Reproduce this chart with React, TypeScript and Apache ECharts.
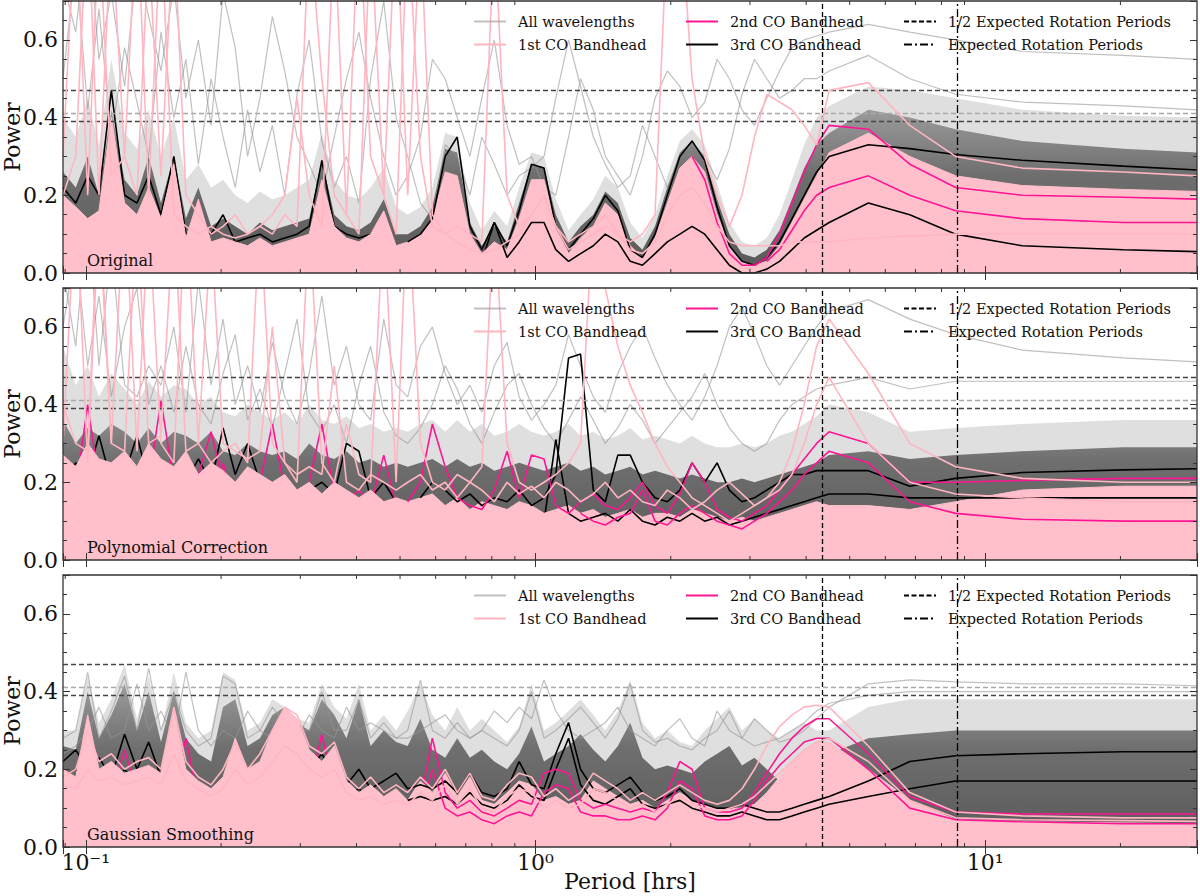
import React, { useEffect, useRef } from 'react';
import * as echarts from 'echarts';

// ---------------- DATA ----------------
// Period grid [hrs]
const periods = [
  0.089, 0.095, 0.101, 0.107, 0.114, 0.122, 0.13, 0.138, 0.147, 0.157,
  0.167, 0.178, 0.19, 0.202, 0.215, 0.229, 0.244, 0.26, 0.277, 0.295,
  0.314, 0.335, 0.357, 0.38, 0.405, 0.43, 0.46, 0.49,
  0.52, 0.555, 0.59, 0.63, 0.67, 0.715, 0.76, 0.81, 0.865, 0.92,
  0.98, 1.045, 1.11, 1.185, 1.26, 1.345, 1.43, 1.525, 1.625, 1.73,
  1.845, 1.965, 2.095, 2.23, 2.38, 2.535, 2.7, 2.88, 3.07, 3.27,
  3.49, 3.72, 3.96, 4.22,
  4.5, 5.5, 6.8, 8.6, 12.1, 20.3, 29.6,
];

// Panel 1: Original
const origBandLight = [
  0.40, 0.35, 0.45, 0.33, 0.55, 0.36, 0.32, 0.42, 0.30, 0.40, 0.24, 0.28, 0.22, 0.24, 0.20, 0.18, 0.21, 0.19, 0.20, 0.22, 0.24, 0.36, 0.24, 0.20, 0.19, 0.22, 0.27, 0.17,
  0.15, 0.17, 0.22, 0.36, 0.35, 0.18, 0.11, 0.16, 0.12, 0.22, 0.31, 0.30, 0.19, 0.11, 0.15, 0.19, 0.25, 0.22, 0.13, 0.09, 0.15, 0.25, 0.34, 0.37, 0.33, 0.23, 0.13, 0.08, 0.07, 0.09, 0.15, 0.24, 0.33, 0.40,
  0.43, 0.48, 0.47, 0.45, 0.42, 0.405, 0.40,
];
const origBandDark = [
  0.26, 0.22, 0.30, 0.20, 0.42, 0.24, 0.20, 0.30, 0.18, 0.30, 0.14, 0.22, 0.12, 0.14, 0.12, 0.10, 0.13, 0.11, 0.12, 0.13, 0.14, 0.29, 0.15, 0.12, 0.11, 0.13, 0.19, 0.10,
  0.10, 0.12, 0.17, 0.32, 0.31, 0.13, 0.07, 0.12, 0.08, 0.18, 0.28, 0.27, 0.15, 0.08, 0.12, 0.15, 0.21, 0.18, 0.09, 0.06, 0.12, 0.22, 0.31, 0.34, 0.30, 0.19, 0.10, 0.05, 0.04, 0.06, 0.11, 0.19, 0.27, 0.33,
  0.36, 0.42, 0.40, 0.37, 0.34, 0.32, 0.31,
];
const origPinkFill = [
  0.20, 0.17, 0.14, 0.16, 0.40, 0.18, 0.15, 0.22, 0.14, 0.28, 0.09, 0.19, 0.08, 0.09, 0.08, 0.07, 0.09, 0.07, 0.08, 0.09, 0.10, 0.24, 0.12, 0.09, 0.08, 0.10, 0.16, 0.07,
  0.08, 0.10, 0.14, 0.26, 0.25, 0.10, 0.05, 0.08, 0.06, 0.14, 0.24, 0.24, 0.12, 0.05, 0.09, 0.12, 0.18, 0.15, 0.07, 0.04, 0.09, 0.18, 0.27, 0.30, 0.26, 0.15, 0.07, 0.03, 0.02, 0.03, 0.07, 0.13, 0.19, 0.25,
  0.31, 0.36, 0.30, 0.25, 0.225, 0.215, 0.21,
];
const origGray1 = [
  0.75, 0.62, 0.90, 0.55, 0.72, 0.48, 0.80, 0.66, 0.52, 0.74, 0.45, 0.60, 0.38, 0.72, 0.58, 0.30, 0.45, 0.66, 0.52, 0.35, 0.28, 0.20, 0.35, 0.50, 0.62, 0.45, 0.30, 0.20,
  0.25, 0.35, 0.55, 0.50, 0.40, 0.30, 0.45, 0.60, 0.38, 0.28, 0.30, 0.22, 0.20, 0.35, 0.50, 0.42, 0.30, 0.25, 0.20, 0.30, 0.45, 0.52, 0.48, 0.40, 0.44, 0.55, 0.50, 0.42, 0.38, 0.45, 0.52, 0.58, 0.60, 0.61,
  0.62, 0.64, 0.62, 0.60, 0.57, 0.56, 0.55,
];
const origGray2 = [
  0.50, 0.80, 0.42, 0.68, 0.35, 0.58, 0.44, 0.30, 0.62, 0.40, 0.55, 0.28, 0.50, 0.35, 0.22, 0.42, 0.26, 0.38, 0.20, 0.46, 0.60, 0.34, 0.22, 0.30, 0.18, 0.50, 0.70, 0.40,
  0.30, 0.18, 0.14, 0.33, 0.30, 0.20, 0.35, 0.28, 0.20, 0.25, 0.27, 0.30, 0.45, 0.60, 0.48, 0.35, 0.28, 0.22, 0.25, 0.38, 0.30, 0.22, 0.30, 0.33, 0.30, 0.24, 0.32, 0.46, 0.55, 0.50, 0.45, 0.47, 0.50, 0.50,
  0.52, 0.56, 0.50, 0.46, 0.44, 0.43, 0.42,
];
const origPink1 = [
  0.30, 0.95, 0.20, 0.90, 0.25, 0.30, 0.95, 0.20, 0.90, 0.15, 0.12, 0.10, 0.12, 0.10, 0.09, 0.10, 0.12, 0.15, 0.20, 0.45, 0.20, 0.12, 0.90, 0.15, 0.95, 0.30, 0.20, 0.95,
  0.20, 0.90, 0.15, 0.10, 0.12, 0.10, 0.08, 0.90, 0.20, 0.12, 0.15, 0.20, 0.12, 0.08, 0.10, 0.12, 0.15, 0.10, 0.08, 0.10, 0.15, 0.90, 0.95, 0.50, 0.30, 0.20, 0.12, 0.20, 0.35, 0.46, 0.44, 0.42, 0.38, 0.33,
  0.47, 0.49, 0.38, 0.30, 0.27, 0.26, 0.25,
];
const origPink2 = [
  0.20, 0.30, 0.95, 0.20, 0.90, 0.30, 0.20, 0.85, 0.25, 0.90, 0.20, 0.15, 0.10, 0.12, 0.15, 0.10, 0.12, 0.10, 0.15, 0.12, 0.90, 0.50, 0.20, 0.15, 0.10, 0.90, 0.20, 0.10,
  0.92, 0.30, 0.12, 0.10, 0.08, 0.06, 0.05, 0.06, 0.08, 0.10, 0.15, 0.20, 0.12, 0.06, 0.08, 0.10, 0.12, 0.10, 0.06, 0.05, 0.08, 0.15, 0.20, 0.22, 0.18, 0.12, 0.08, 0.07, 0.07, 0.07, 0.07, 0.08, 0.08, 0.08,
  0.08, 0.09, 0.095, 0.10, 0.10, 0.10, 0.10,
];
const origDeep1 = [
  0.12, 0.10, 0.08, 0.10, 0.30, 0.10, 0.08, 0.12, 0.10, 0.20, 0.06, 0.19, 0.06, 0.08, 0.05, 0.05, 0.06, 0.05, 0.06, 0.07, 0.08, 0.18, 0.08, 0.06, 0.05, 0.07, 0.10, 0.05,
  0.05, 0.08, 0.12, 0.22, 0.20, 0.08, 0.04, 0.06, 0.05, 0.12, 0.22, 0.20, 0.10, 0.04, 0.07, 0.10, 0.16, 0.12, 0.05, 0.03, 0.08, 0.17, 0.26, 0.30, 0.24, 0.13, 0.05, 0.02, 0.02, 0.04, 0.10, 0.18, 0.26, 0.33,
  0.38, 0.37, 0.28, 0.22, 0.20, 0.195, 0.19,
];
const origDeep2 = [
  0.08, 0.06, 0.05, 0.07, 0.20, 0.07, 0.05, 0.08, 0.06, 0.12, 0.04, 0.10, 0.04, 0.05, 0.03, 0.03, 0.04, 0.03, 0.04, 0.05, 0.05, 0.12, 0.05, 0.04, 0.03, 0.05, 0.07, 0.03,
  0.03, 0.05, 0.08, 0.16, 0.15, 0.05, 0.02, 0.04, 0.03, 0.08, 0.16, 0.15, 0.07, 0.02, 0.05, 0.07, 0.12, 0.09, 0.03, 0.02, 0.05, 0.12, 0.18, 0.21, 0.17, 0.09, 0.03, 0.01, 0.01, 0.03, 0.06, 0.11, 0.16, 0.20,
  0.22, 0.25, 0.20, 0.16, 0.14, 0.13, 0.13,
];
const origBlack1 = [
  0.22, 0.18, 0.25, 0.20, 0.47, 0.20, 0.18, 0.25, 0.15, 0.30, 0.10, 0.12, 0.10, 0.15, 0.08, 0.09, 0.10, 0.08, 0.09, 0.10, 0.12, 0.29, 0.12, 0.10, 0.09, 0.10, 0.14, 0.06,
  0.08, 0.10, 0.14, 0.30, 0.35, 0.12, 0.06, 0.13, 0.07, 0.16, 0.28, 0.27, 0.12, 0.06, 0.10, 0.14, 0.20, 0.16, 0.06, 0.04, 0.10, 0.20, 0.30, 0.34, 0.29, 0.17, 0.07, 0.03, 0.02, 0.04, 0.08, 0.14, 0.20, 0.26,
  0.30, 0.33, 0.32, 0.305, 0.29, 0.275, 0.265,
];
const origBlack2 = [
  0.10, 0.08, 0.12, 0.09, 0.15, 0.08, 0.07, 0.10, 0.07, 0.12, 0.05, 0.06, 0.05, 0.06, 0.04, 0.04, 0.05, 0.04, 0.05, 0.05, 0.06, 0.10, 0.05, 0.04, 0.04, 0.05, 0.07, 0.04,
  0.04, 0.05, 0.07, 0.12, 0.12, 0.05, 0.03, 0.13, 0.04, 0.08, 0.13, 0.13, 0.06, 0.03, 0.05, 0.07, 0.10, 0.08, 0.03, 0.02, 0.05, 0.08, 0.10, 0.12, 0.10, 0.06, 0.02, 0.00, 0.00, 0.01, 0.03, 0.06, 0.09, 0.11,
  0.13, 0.18, 0.15, 0.10, 0.07, 0.06, 0.055,
];

// Panel 2: Polynomial Correction
const polyBandLight = [
  0.55, 0.45, 0.50, 0.42, 0.48, 0.44, 0.40, 0.46, 0.42, 0.45, 0.44, 0.40, 0.42, 0.38, 0.37, 0.40, 0.38, 0.36, 0.38, 0.35, 0.40, 0.36, 0.35, 0.37, 0.34, 0.35, 0.33, 0.34,
  0.33, 0.35, 0.36, 0.33, 0.36, 0.33, 0.35, 0.32, 0.33, 0.35, 0.33, 0.32, 0.33, 0.35, 0.32, 0.33, 0.31, 0.32, 0.34, 0.31, 0.32, 0.31, 0.30, 0.32, 0.30, 0.29, 0.29, 0.30, 0.29, 0.30, 0.32, 0.33, 0.35, 0.37,
  0.40, 0.38, 0.33, 0.34, 0.35, 0.36, 0.36,
];
const polyBandDark = [
  0.36, 0.30, 0.34, 0.32, 0.35, 0.33, 0.30, 0.34, 0.30, 0.33, 0.32, 0.30, 0.33, 0.28, 0.27, 0.30, 0.28, 0.27, 0.28, 0.26, 0.30, 0.27, 0.26, 0.28, 0.25, 0.26, 0.24, 0.25,
  0.24, 0.25, 0.26, 0.24, 0.26, 0.24, 0.25, 0.23, 0.24, 0.25, 0.24, 0.23, 0.24, 0.25, 0.23, 0.24, 0.22, 0.23, 0.24, 0.22, 0.23, 0.22, 0.21, 0.22, 0.21, 0.20, 0.20, 0.21, 0.20, 0.21, 0.22, 0.23, 0.24, 0.25,
  0.27, 0.28, 0.26, 0.27, 0.28, 0.29, 0.29,
];
const polyPinkFill = [
  0.27, 0.24, 0.30, 0.26, 0.25, 0.28, 0.24, 0.30, 0.26, 0.24, 0.28, 0.22, 0.25, 0.23, 0.20, 0.24, 0.22, 0.20, 0.22, 0.18, 0.20, 0.17, 0.20, 0.18, 0.16, 0.18, 0.15, 0.16,
  0.15, 0.16, 0.17, 0.14, 0.16, 0.13, 0.15, 0.14, 0.13, 0.15, 0.14, 0.12, 0.13, 0.14, 0.12, 0.13, 0.11, 0.12, 0.13, 0.11, 0.12, 0.12, 0.11, 0.13, 0.12, 0.11, 0.10, 0.11, 0.10, 0.11, 0.12, 0.13, 0.14, 0.15,
  0.14, 0.14, 0.13, 0.15, 0.18, 0.19, 0.19,
];
const polyGray1 = [
  0.75, 0.55, 0.90, 0.50, 0.80, 0.45, 0.42, 0.50, 0.45, 0.60, 0.38, 0.72, 0.45, 0.62, 0.40, 0.50, 0.38, 0.56, 0.42, 0.35, 0.48, 0.68, 0.45, 0.55, 0.40, 0.36, 0.62, 0.45,
  0.42, 0.55, 0.60, 0.48, 0.40, 0.45, 0.38, 0.50, 0.56, 0.42, 0.36, 0.40, 0.45, 0.58, 0.50, 0.42, 0.38, 0.48, 0.55, 0.60, 0.52, 0.45, 0.40, 0.36, 0.42, 0.50, 0.60, 0.65, 0.58, 0.50, 0.45, 0.50, 0.55, 0.60,
  0.64, 0.67, 0.62, 0.58, 0.54, 0.52, 0.51,
];
const polyGray2 = [
  0.60, 0.80, 0.50, 0.68, 0.42, 0.60, 0.70, 0.40, 0.50, 0.38, 0.55, 0.40, 0.35, 0.48, 0.58, 0.36, 0.44, 0.34, 0.48, 0.62, 0.38, 0.33, 0.40, 0.30, 0.45, 0.55, 0.38, 0.32,
  0.30, 0.34, 0.40, 0.50, 0.44, 0.35, 0.30, 0.38, 0.45, 0.48, 0.40, 0.34, 0.30, 0.36, 0.42, 0.36, 0.30, 0.34, 0.40, 0.36, 0.30, 0.34, 0.38, 0.42, 0.48, 0.40, 0.34, 0.30, 0.28, 0.30, 0.36, 0.40, 0.42, 0.44,
  0.45, 0.47, 0.44, 0.46, 0.46, 0.46, 0.46,
];
const polyPink1 = [
  0.30, 0.95, 0.25, 0.90, 0.30, 0.95, 0.28, 0.90, 0.30, 0.25, 0.95, 0.30, 0.25, 0.28, 0.30, 0.25, 0.90, 0.30, 0.25, 0.20, 0.90, 0.25, 0.20, 0.35, 0.22, 0.20, 0.90, 0.20,
  0.95, 0.30, 0.20, 0.18, 0.22, 0.20, 0.24, 0.90, 0.30, 0.20, 0.18, 0.20, 0.22, 0.25, 0.30, 0.90, 0.70, 0.55, 0.45, 0.38, 0.30, 0.24, 0.20, 0.16, 0.14, 0.12, 0.10, 0.12, 0.14, 0.16, 0.20, 0.28, 0.40, 0.55,
  0.62, 0.48, 0.30, 0.24, 0.21, 0.20, 0.20,
];
const polyPink2 = [
  0.40, 0.30, 0.28, 0.95, 0.30, 0.28, 0.90, 0.30, 0.32, 0.90, 0.28, 0.30, 0.85, 0.30, 0.28, 0.26, 0.28, 0.60, 0.25, 0.22, 0.24, 0.22, 0.50, 0.20, 0.18, 0.22, 0.20, 0.18,
  0.20, 0.22, 0.18, 0.20, 0.16, 0.20, 0.18, 0.15, 0.20, 0.17, 0.19, 0.16, 0.20, 0.18, 0.15, 0.17, 0.20, 0.16, 0.18, 0.15, 0.14, 0.18, 0.16, 0.13, 0.15, 0.18, 0.20, 0.17, 0.14, 0.16, 0.18, 0.22, 0.30, 0.40,
  0.47, 0.30, 0.20, 0.17, 0.16, 0.15, 0.15,
];
const polyDeep1 = [
  0.20, 0.18, 0.40, 0.20, 0.17, 0.22, 0.18, 0.20, 0.41, 0.20, 0.18, 0.22, 0.33, 0.20, 0.18, 0.16, 0.20, 0.35, 0.18, 0.16, 0.20, 0.35, 0.17, 0.15, 0.18, 0.14, 0.27, 0.14,
  0.15, 0.20, 0.35, 0.24, 0.16, 0.14, 0.13, 0.18, 0.28, 0.16, 0.27, 0.26, 0.14, 0.12, 0.15, 0.17, 0.14, 0.13, 0.16, 0.20, 0.14, 0.12, 0.17, 0.25, 0.20, 0.13, 0.11, 0.10, 0.12, 0.14, 0.18, 0.22, 0.26, 0.30,
  0.33, 0.30, 0.20, 0.20, 0.205, 0.21, 0.21,
];
const polyDeep2 = [
  0.15, 0.14, 0.22, 0.16, 0.13, 0.15, 0.20, 0.14, 0.16, 0.13, 0.15, 0.14, 0.12, 0.25, 0.13, 0.12, 0.11, 0.13, 0.10, 0.12, 0.11, 0.10, 0.12, 0.10, 0.11, 0.09, 0.10, 0.09,
  0.10, 0.12, 0.14, 0.12, 0.10, 0.09, 0.10, 0.12, 0.11, 0.10, 0.12, 0.10, 0.09, 0.10, 0.12, 0.10, 0.09, 0.11, 0.12, 0.18, 0.10, 0.09, 0.12, 0.14, 0.12, 0.10, 0.09, 0.08, 0.10, 0.12, 0.15, 0.18, 0.22, 0.25,
  0.28, 0.25, 0.15, 0.12, 0.105, 0.10, 0.10,
];
const polyBlack1 = [
  0.20, 0.25, 0.22, 0.32, 0.20, 0.22, 0.32, 0.20, 0.18, 0.22, 0.20, 0.26, 0.20, 0.34, 0.22, 0.30, 0.20, 0.18, 0.20, 0.17, 0.18, 0.20, 0.17, 0.30, 0.28, 0.16, 0.20, 0.15,
  0.14, 0.16, 0.20, 0.18, 0.15, 0.17, 0.14, 0.16, 0.15, 0.18, 0.14, 0.16, 0.22, 0.52, 0.53, 0.18, 0.15, 0.27, 0.27, 0.20, 0.16, 0.15, 0.18, 0.25, 0.20, 0.25, 0.18, 0.15, 0.16, 0.18, 0.20, 0.22, 0.22, 0.23,
  0.23, 0.23, 0.19, 0.21, 0.225, 0.232, 0.235,
];
const polyBlack2 = [
  0.15, 0.12, 0.14, 0.18, 0.13, 0.12, 0.15, 0.12, 0.14, 0.11, 0.13, 0.12, 0.16, 0.12, 0.11, 0.13, 0.10, 0.12, 0.11, 0.10, 0.12, 0.11, 0.10, 0.12, 0.10, 0.09, 0.11, 0.10,
  0.10, 0.12, 0.10, 0.11, 0.13, 0.10, 0.09, 0.11, 0.10, 0.12, 0.11, 0.10, 0.31, 0.12, 0.10, 0.11, 0.12, 0.10, 0.13, 0.10, 0.09, 0.11, 0.10, 0.12, 0.10, 0.11, 0.09, 0.10, 0.11, 0.12, 0.13, 0.14, 0.15, 0.16,
  0.17, 0.17, 0.16, 0.16, 0.16, 0.16, 0.16,
];

// Panel 3: Gaussian Smoothing
const gaussBandLight = [
  0.30, 0.30, 0.44, 0.32, 0.38, 0.47, 0.33, 0.44, 0.30, 0.45, 0.32, 0.28, 0.30, 0.45, 0.43, 0.30, 0.32, 0.38, 0.36, 0.33, 0.32, 0.42, 0.36, 0.33, 0.42, 0.30, 0.34, 0.30,
  0.35, 0.42, 0.34, 0.30, 0.36, 0.30, 0.33, 0.30, 0.27, 0.31, 0.42, 0.30, 0.32, 0.35, 0.38, 0.34, 0.30, 0.35, 0.43, 0.32, 0.28, 0.30, 0.27, 0.26, 0.30, 0.33, 0.36, 0.30, 0.33, 0.30, 0.28, 0.30, 0.32, 0.30,
  0.30, 0.36, 0.38, 0.38, 0.38, 0.38, 0.38,
];
const gaussBandDark = [
  0.26, 0.25, 0.40, 0.28, 0.34, 0.42, 0.30, 0.40, 0.27, 0.40, 0.28, 0.24, 0.22, 0.36, 0.38, 0.26, 0.28, 0.34, 0.36, 0.32, 0.30, 0.38, 0.34, 0.28, 0.38, 0.26, 0.30, 0.27,
  0.26, 0.33, 0.25, 0.23, 0.28, 0.23, 0.25, 0.22, 0.20, 0.24, 0.31, 0.22, 0.24, 0.26, 0.29, 0.25, 0.22, 0.26, 0.32, 0.23, 0.20, 0.21, 0.20, 0.19, 0.22, 0.24, 0.26, 0.21, 0.23, 0.20, 0.17, 0.17, 0.19, 0.21,
  0.24, 0.28, 0.29, 0.30, 0.30, 0.30, 0.30,
];
const gaussPinkFill = [
  0.20, 0.18, 0.34, 0.20, 0.22, 0.19, 0.20, 0.21, 0.19, 0.35, 0.20, 0.17, 0.15, 0.18, 0.28, 0.20, 0.22, 0.30, 0.36, 0.33, 0.25, 0.22, 0.26, 0.17, 0.14, 0.16, 0.13, 0.15,
  0.12, 0.17, 0.14, 0.19, 0.13, 0.18, 0.12, 0.11, 0.14, 0.17, 0.16, 0.12, 0.13, 0.11, 0.12, 0.17, 0.15, 0.13, 0.11, 0.12, 0.10, 0.12, 0.14, 0.12, 0.11, 0.10, 0.10, 0.10, 0.11, 0.14, 0.18, 0.22, 0.25, 0.27,
  0.27, 0.20, 0.12, 0.07, 0.065, 0.062, 0.06,
];
const gaussGray1 = [
  0.28, 0.30, 0.45, 0.28, 0.35, 0.44, 0.30, 0.46, 0.30, 0.40, 0.30, 0.26, 0.28, 0.44, 0.42, 0.28, 0.30, 0.36, 0.32, 0.30, 0.30, 0.40, 0.30, 0.30, 0.38, 0.28, 0.32, 0.28,
  0.30, 0.43, 0.30, 0.28, 0.32, 0.28, 0.30, 0.28, 0.26, 0.30, 0.40, 0.28, 0.30, 0.33, 0.36, 0.32, 0.28, 0.33, 0.42, 0.30, 0.27, 0.28, 0.26, 0.25, 0.28, 0.30, 0.35, 0.28, 0.33, 0.30, 0.27, 0.28, 0.30, 0.33,
  0.36, 0.42, 0.43, 0.425, 0.42, 0.42, 0.415,
];
const gaussGray2 = [
  0.24, 0.26, 0.30, 0.36, 0.28, 0.30, 0.42, 0.30, 0.35, 0.28, 0.45, 0.30, 0.26, 0.30, 0.28, 0.35, 0.30, 0.28, 0.30, 0.28, 0.34, 0.30, 0.28, 0.36, 0.30, 0.32, 0.30, 0.28,
  0.28, 0.30, 0.32, 0.34, 0.30, 0.28, 0.30, 0.35, 0.32, 0.36, 0.33, 0.43, 0.35, 0.30, 0.28, 0.30, 0.32, 0.36, 0.30, 0.28, 0.26, 0.30, 0.33, 0.28, 0.26, 0.35, 0.30, 0.28, 0.26, 0.27, 0.28, 0.30, 0.32, 0.35,
  0.37, 0.39, 0.40, 0.40, 0.40, 0.40, 0.40,
];
const gaussPink1 = [
  0.18, 0.20, 0.30, 0.22, 0.24, 0.20, 0.22, 0.23, 0.20, 0.36, 0.22, 0.18, 0.16, 0.20, 0.27, 0.20, 0.24, 0.30, 0.36, 0.34, 0.26, 0.24, 0.27, 0.18, 0.15, 0.18, 0.14, 0.16,
  0.14, 0.18, 0.15, 0.20, 0.14, 0.19, 0.13, 0.12, 0.16, 0.19, 0.18, 0.13, 0.15, 0.12, 0.14, 0.19, 0.17, 0.15, 0.12, 0.14, 0.12, 0.14, 0.16, 0.14, 0.12, 0.11, 0.12, 0.15, 0.20, 0.26, 0.31, 0.34, 0.36, 0.365,
  0.36, 0.26, 0.14, 0.09, 0.08, 0.075, 0.075,
];
const gaussPink2 = [
  0.16, 0.15, 0.20, 0.17, 0.18, 0.16, 0.17, 0.18, 0.16, 0.24, 0.17, 0.15, 0.13, 0.15, 0.20, 0.16, 0.18, 0.22, 0.26, 0.24, 0.20, 0.18, 0.20, 0.14, 0.12, 0.13, 0.11, 0.12,
  0.11, 0.14, 0.12, 0.16, 0.11, 0.15, 0.10, 0.09, 0.13, 0.15, 0.14, 0.10, 0.12, 0.10, 0.11, 0.15, 0.14, 0.12, 0.10, 0.11, 0.09, 0.11, 0.13, 0.11, 0.10, 0.09, 0.10, 0.11, 0.13, 0.16, 0.19, 0.22, 0.25, 0.27,
  0.28, 0.22, 0.12, 0.075, 0.07, 0.068, 0.066,
];
const gaussDeep1 = [
  0.12, 0.14, 0.33, 0.15, 0.13, 0.25, 0.14, 0.12, 0.13, 0.15, 0.28, 0.12, 0.10, 0.12, 0.14, 0.12, 0.13, 0.15, 0.14, 0.13, 0.15, 0.29, 0.14, 0.12, 0.10, 0.11, 0.09, 0.10,
  0.09, 0.12, 0.28, 0.14, 0.10, 0.12, 0.09, 0.08, 0.10, 0.12, 0.11, 0.19, 0.20, 0.19, 0.12, 0.10, 0.11, 0.10, 0.09, 0.10, 0.09, 0.14, 0.22, 0.20, 0.10, 0.09, 0.09, 0.10, 0.14, 0.19, 0.24, 0.28, 0.31, 0.33,
  0.33, 0.24, 0.13, 0.09, 0.085, 0.085, 0.085,
];
const gaussDeep2 = [
  0.10, 0.11, 0.20, 0.11, 0.10, 0.14, 0.10, 0.09, 0.10, 0.11, 0.16, 0.09, 0.08, 0.09, 0.10, 0.09, 0.10, 0.11, 0.10, 0.09, 0.11, 0.18, 0.10, 0.09, 0.08, 0.08, 0.07, 0.08,
  0.07, 0.09, 0.20, 0.10, 0.08, 0.09, 0.07, 0.06, 0.08, 0.09, 0.08, 0.14, 0.16, 0.15, 0.09, 0.08, 0.08, 0.07, 0.07, 0.08, 0.07, 0.10, 0.17, 0.15, 0.08, 0.07, 0.07, 0.08, 0.12, 0.17, 0.21, 0.24, 0.27, 0.28,
  0.28, 0.20, 0.10, 0.07, 0.065, 0.06, 0.06,
];
const gaussBlack1 = [
  0.22, 0.25, 0.20, 0.23, 0.18, 0.29, 0.20, 0.27, 0.18, 0.20, 0.17, 0.15, 0.14, 0.16, 0.22, 0.18, 0.16, 0.18, 0.20, 0.18, 0.20, 0.24, 0.18, 0.16, 0.20, 0.15, 0.17, 0.19,
  0.15, 0.16, 0.15, 0.17, 0.14, 0.19, 0.14, 0.13, 0.15, 0.22, 0.16, 0.15, 0.24, 0.32, 0.20, 0.15, 0.14, 0.16, 0.18, 0.14, 0.12, 0.13, 0.15, 0.12, 0.11, 0.10, 0.10, 0.11, 0.10, 0.09, 0.09, 0.10, 0.11, 0.12,
  0.13, 0.17, 0.22, 0.235, 0.24, 0.245, 0.245,
];
const gaussBlack2 = [
  0.18, 0.20, 0.16, 0.18, 0.15, 0.20, 0.16, 0.18, 0.14, 0.15, 0.13, 0.12, 0.11, 0.13, 0.16, 0.14, 0.13, 0.14, 0.15, 0.14, 0.15, 0.18, 0.14, 0.13, 0.15, 0.12, 0.13, 0.14,
  0.12, 0.13, 0.12, 0.13, 0.11, 0.14, 0.11, 0.10, 0.12, 0.16, 0.13, 0.12, 0.20, 0.28, 0.16, 0.12, 0.11, 0.13, 0.15, 0.11, 0.10, 0.11, 0.12, 0.10, 0.09, 0.08, 0.08, 0.09, 0.08, 0.07, 0.07, 0.08, 0.09, 0.10,
  0.11, 0.13, 0.15, 0.17, 0.17, 0.17, 0.17,
];

// Reference levels and periods
const significanceLevels = [0.472, 0.413, 0.385];
const halfRotationPeriod = 4.34;
const rotationPeriod = 8.67;
const panelLabels = ['Original', 'Polynomial Correction', 'Gaussian Smoothing'];
const legendColumns = [
  ['All wavelengths', '1st CO Bandhead'],
  ['2nd CO Bandhead', '3rd CO Bandhead'],
  ['1/2 Expected Rotation Periods', 'Expected Rotation Periods'],
];
const minorPeriodTicks = [0.09, 0.2, 0.3, 0.4, 0.5, 0.6, 0.7, 0.8, 0.9, 2, 3, 4, 5, 6, 7, 8, 9, 20];
const xTickLabels: Record<string, string> = { '-1': '10⁻¹', '0': '10⁰', '1': '10¹' };

// ---------------- LAYOUT / STYLE ----------------
const X_MIN = 0.089;
const X_MAX = 29.6;
const GRID_LEFT = 63;
const GRID_W = 1134;
const GRID_H = 272;
const TOPS = [1, 288, 575];
const FONT = '"DejaVu Serif", "Liberation Serif", serif';
const levelColors = ['#444444', '#a8a8a8', '#444444'];
const legendLeft = [473, 685, 903];
const SPLIT_HIGH = 27; // search for the emerging point from here on

const panels = [
  { bandLight: origBandLight, bandDark: origBandDark, pinkFill: origPinkFill, gray: [origGray1, origGray2], pink: [origPink1, origPink2], deep: [origDeep1, origDeep2], black: [origBlack1, origBlack2] },
  { bandLight: polyBandLight, bandDark: polyBandDark, pinkFill: polyPinkFill, gray: [polyGray1, polyGray2], pink: [polyPink1, polyPink2], deep: [polyDeep1, polyDeep2], black: [polyBlack1, polyBlack2] },
  { bandLight: gaussBandLight, bandDark: gaussBandDark, pinkFill: gaussPinkFill, gray: [gaussGray1, gaussGray2], pink: [gaussPink1, gaussPink2], deep: [gaussDeep1, gaussDeep2], black: [gaussBlack1, gaussBlack2] },
];

const pairs = (arr: number[], from = 0, to = periods.length) =>
  periods.slice(from, to).map((p, i) => [p, arr[from + i]]);

// first index (from SPLIT_HIGH) where a line rises above the pink mass
const emergeIndex = (arr: number[], fill: number[]) => {
  for (let k = SPLIT_HIGH; k < arr.length; k++) if (arr[k] >= fill[k]) return k;
  return SPLIT_HIGH;
};

function buildOption() {
  const grid: any[] = [];
  const xAxis: any[] = [];
  const yAxis: any[] = [];
  const series: any[] = [];
  const legend: any[] = [];

  panels.forEach((p, i) => {
    const top = TOPS[i];
    grid.push({ left: GRID_LEFT, top, width: GRID_W, height: GRID_H, show: false });
    const tickStyle = { color: '#333', width: 1 };
    ['bottom', 'top'].forEach((pos) => {
      xAxis.push({
        type: 'log', logBase: 10, gridIndex: i, min: X_MIN, max: X_MAX, position: pos, z: 10,
        axisLine: { show: false }, splitLine: { show: false },
        axisTick: { show: true, inside: true, length: 7, lineStyle: tickStyle },
        axisLabel: {
          show: pos === 'bottom' && i === 2, margin: 4, fontSize: 22, fontFamily: FONT, color: '#111',
          formatter: (v: number) => {
            const l = Math.log10(v);
            const r = Math.round(l);
            if (Math.abs(l - r) > 1e-6) return '';
            return xTickLabels[String(r)] || '';
          },
        },
      });
    });
    ['left', 'right'].forEach((pos) => {
      yAxis.push({
        type: 'value', gridIndex: i, min: 0, max: 0.7, interval: 0.2, position: pos, z: 10,
        axisLine: { show: false }, splitLine: { show: false },
        axisTick: { show: true, inside: true, length: 7, lineStyle: tickStyle },
        minorTick: { show: true, splitNumber: 4, length: 4, lineStyle: tickStyle },
        axisLabel: {
          show: pos === 'left', margin: 5, fontSize: 22, fontFamily: FONT, color: '#111',
          formatter: (v: number) => (v > 0.65 ? '' : v.toFixed(1)),
        },
      });
    });

    const base = {
      type: 'line', xAxisIndex: 2 * i, yAxisIndex: 2 * i, symbol: 'none', showSymbol: false,
      silent: true, animation: false, clip: true,
    };
    const darkGrad = new echarts.graphic.LinearGradient(0, top, 0, top + GRID_H, [
      { offset: 0, color: '#b4b4b4' },
      { offset: 0.36, color: '#9c9c9c' },
      { offset: 0.64, color: '#626262' },
      { offset: 1, color: '#4a4a4a' },
    ], true);

    series.push({ ...base, name: 'band-light-' + i, data: pairs(p.bandLight), lineStyle: { width: 0 }, areaStyle: { color: 'rgba(185,185,185,0.45)', opacity: 1 }, z: 1 });
    series.push({ ...base, name: 'band-dark-' + i, data: pairs(p.bandDark), lineStyle: { width: 0 }, areaStyle: { color: darkGrad, opacity: 0.9 }, z: 1 });
    p.gray.forEach((g) => series.push({ ...base, name: 'All wavelengths', color: '#c8c8c8', data: pairs(g), lineStyle: { color: 'rgba(150,150,150,0.6)', width: 1.2 }, z: 2 }));

    const coloured = [
      ...p.black.map((arr) => ({ arr, name: '3rd CO Bandhead', color: '#000' })),
      ...p.deep.map((arr) => ({ arr, name: '2nd CO Bandhead', color: '#ff1493' })),
    ];
    // short-period parts of 2nd / 3rd bandhead lines sit under the pink mass
    coloured.forEach((c) => {
      const s = emergeIndex(c.arr, p.pinkFill);
      series.push({ ...base, name: c.name, color: c.color, data: pairs(c.arr, 0, s + 1), lineStyle: { color: c.color, width: 1.6 }, z: 2 });
    });
    series.push({ ...base, name: 'pink-fill-' + i, data: pairs(p.pinkFill), lineStyle: { color: '#ffc0cb', width: 1 }, areaStyle: { color: '#ffc0cb', opacity: 1 }, z: 3 });
    coloured.forEach((c) => {
      const s = emergeIndex(c.arr, p.pinkFill);
      series.push({ ...base, name: c.name, color: c.color, data: pairs(c.arr, s), lineStyle: { color: c.color, width: 1.6 }, z: 4 });
    });
    p.pink.forEach((k) => series.push({ ...base, name: '1st CO Bandhead', color: '#ffb6c1', data: pairs(k), lineStyle: { color: '#ffb6c1', width: 1.6 }, z: 5 }));

    series.push({
      ...base, name: 'levels-' + i, data: [], z: 6,
      markLine: {
        silent: true, symbol: 'none', label: { show: false }, animation: false,
        data: significanceLevels.map((v, k) => ({ yAxis: v, lineStyle: { color: levelColors[k], width: 1.3, type: [5, 3] } })),
      },
    });
    series.push({
      ...base, name: '1/2 Expected Rotation Periods', color: '#000', data: [], z: 7,
      lineStyle: { color: '#000', width: 1.5, type: [5, 2.5] },
      markLine: { silent: true, symbol: 'none', label: { show: false }, animation: false, lineStyle: { color: '#000', width: 1.3, type: [5, 3] }, data: [{ xAxis: halfRotationPeriod }] },
    });
    series.push({
      ...base, name: 'Expected Rotation Periods', color: '#000', data: [], z: 7,
      lineStyle: { color: '#000', width: 1.5, type: [8, 3, 2, 3] },
      markLine: { silent: true, symbol: 'none', label: { show: false }, animation: false, lineStyle: { color: '#000', width: 1.3, type: [8, 3, 2, 3] }, data: [{ xAxis: rotationPeriod }] },
    });

    legendColumns.forEach((names, c) => {
      legend.push({
        data: names, orient: 'vertical', left: legendLeft[c], top: top + 13, itemWidth: 32, itemHeight: 14,
        itemGap: 8, padding: 0, selectedMode: false, z: 20,
        itemStyle: { color: 'rgba(0,0,0,0)', borderWidth: 0, opacity: 0 },
        textStyle: { fontSize: 14.5, fontFamily: FONT, color: '#111', padding: [0, 0, 0, 7] },
      });
    });
  });

  return { animation: false, backgroundColor: '#fff', grid, xAxis, yAxis, series, legend };
}

export default function App() {
  const ref = useRef<HTMLDivElement>(null);
  useEffect(() => {
    document.body.style.margin = '0';
    const chart = echarts.init(ref.current as HTMLDivElement, null, { renderer: 'svg' });
    chart.setOption(buildOption());

    const elements: any[] = [];
    TOPS.forEach((top, i) => {
      elements.push({
        type: 'rect', silent: true, z: 60,
        shape: { x: GRID_LEFT, y: top, width: GRID_W, height: GRID_H },
        style: { fill: 'none', stroke: '#333', lineWidth: 1.3 },
      });
      elements.push({
        type: 'text', silent: true, z: 60, x: 87, y: top + 259,
        style: { text: panelLabels[i], font: '16px ' + FONT, fill: '#111', verticalAlign: 'middle' },
      });
      elements.push({
        type: 'text', silent: true, z: 60, x: 12, y: top + GRID_H / 2, rotation: Math.PI / 2,
        style: { text: 'Power', font: '22px ' + FONT, fill: '#111', align: 'center', verticalAlign: 'middle' },
      });
      minorPeriodTicks.forEach((v) => {
        const x = chart.convertToPixel({ xAxisIndex: 2 * i } as any, v) as unknown as number;
        if (typeof x !== 'number' || !isFinite(x)) return;
        elements.push({ type: 'line', silent: true, z: 60, shape: { x1: x, y1: top, x2: x, y2: top + 4 }, style: { stroke: '#333', lineWidth: 1 } });
        elements.push({ type: 'line', silent: true, z: 60, shape: { x1: x, y1: top + GRID_H - 4, x2: x, y2: top + GRID_H }, style: { stroke: '#333', lineWidth: 1 } });
      });
    });
    elements.push({
      type: 'text', silent: true, z: 60, x: GRID_LEFT + GRID_W / 2, y: 881,
      style: { text: 'Period [hrs]', font: '22px ' + FONT, fill: '#111', align: 'center', verticalAlign: 'middle' },
    });
    chart.setOption({ graphic: { elements } });

    return () => chart.dispose();
  }, []);
  return <div ref={ref} style={{ width: 1200, height: 896 }} />;
}
